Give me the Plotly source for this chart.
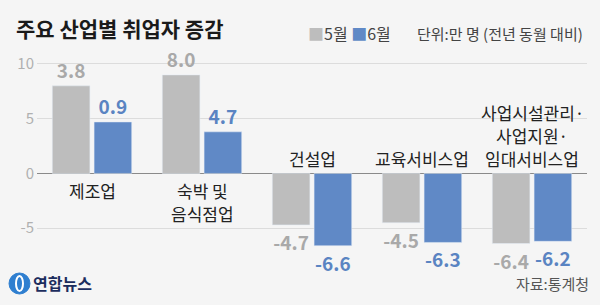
import plotly.graph_objects as go

categories = ["제조업", "숙박 및\n음식점업", "건설업", "교육서비스업", "사업시설관리·\n사업지원·\n임대서비스업"]
# bar heights as drawn in the picture (read against the axis)
may_values = [8.0, 9.0, -4.7, -4.5, -6.4]
jun_values = [4.7, 3.8, -6.6, -6.3, -6.2]
# value labels as printed on the picture
may_labels = ["3.8", "8.0", "-4.7", "-4.5", "-6.4"]
jun_labels = ["0.9", "4.7", "-6.6", "-6.3", "-6.2"]
y_ticks = [10, 5, 0, -5]

GRAY = "#bdbdbd"
GRAY_TXT = "#a9a9a9"
BLUE = "#6089c6"
BLUE_TXT = "#5a84c2"
FONT = "Noto Sans CJK KR"

W, H = 600, 305
L, R, T, B = 37, 13, 53, 33
PW, PH = W - L - R, H - T - B


def px(xp):
    return (xp - L) / PW


def py(yp):
    return (H - B - yp) / PH


x = list(range(len(categories)))
fig = go.Figure()
fig.add_bar(x=x, y=may_values, name="5월", marker_color=GRAY, text=may_labels,
            textposition="outside", cliponaxis=False,
            textfont=dict(family=FONT, size=19, color=GRAY_TXT, weight="bold"))
fig.add_bar(x=x, y=jun_values, name="6월", marker_color=BLUE, text=jun_labels,
            textposition="outside", cliponaxis=False,
            textfont=dict(family=FONT, size=19, color=BLUE_TXT, weight="bold"))

# category names: one annotation per line; lines stack with 23 px spacing
LINE = 23
for i, c in enumerate(categories):
    lines = c.split("\n")
    below = may_values[i] > 0
    for k, ln in enumerate(lines):
        if below:
            off = 17 + k * LINE           # pixels below zero line
        else:
            off = -(15 + (len(lines) - 1 - k) * LINE)  # pixels above zero line
        fig.add_annotation(x=i, y=0, xref="x", yref="y", text=ln, showarrow=False,
                           yanchor="middle", yshift=-off,
                           font=dict(family=FONT, size=17, color="#222"))


def txt(text, xp, yp, size, color, xanchor="left", bold=False):
    fig.add_annotation(x=px(xp), y=py(yp), xref="paper", yref="paper", text=text,
                       showarrow=False, xanchor=xanchor, yanchor="middle",
                       font=dict(family=FONT, size=size, color=color,
                                 weight="bold" if bold else "normal"))


txt("주요 산업별 취업자 증감", 14, 28, 21, "#1a1a1a", bold=True)
txt(f'<span style="color:{GRAY}">■</span>5월 <span style="color:{BLUE}">■</span>6월',
    306, 33, 16, "#444")
txt("단위:만 명 (전년 동월 대비)", 415, 33, 15, "#444")
txt("자료:통계청", 591, 283, 15, "#555", xanchor="right")
txt("연합뉴스", 31, 283, 16, "#1c2d5e", bold=True)

# logo circle
fig.add_shape(type="circle", xref="paper", yref="paper",
              x0=px(9), x1=px(30), y0=py(294), y1=py(273),
              fillcolor="#2f7fd0", line=dict(color="#2f7fd0", width=1))
fig.add_shape(type="circle", xref="paper", yref="paper",
              x0=px(16), x1=px(23), y0=py(291), y1=py(276),
              fillcolor="rgba(0,0,0,0)", line=dict(color="white", width=2))

fig.update_layout(
    width=W, height=H,
    margin=dict(l=L, r=R, t=T, b=B),
    paper_bgcolor="#f5f5f5", plot_bgcolor="#f5f5f5",
    barmode="group", bargap=0.24, bargroupgap=0.1,
    showlegend=False,
    xaxis=dict(range=[-0.5, 4.5], showticklabels=False, showgrid=False, zeroline=False,
               fixedrange=True),
    yaxis=dict(range=[-9, 11], tickvals=y_ticks, ticktext=[str(v) for v in y_ticks],
               showgrid=True, gridcolor="#dcdcdc", gridwidth=1,
               zeroline=True, zerolinecolor="#8a8a8a", zerolinewidth=1,
               tickfont=dict(family=FONT, size=15, color="#b0b0b0"),
               ticks="", ticklabelstandoff=2, fixedrange=True),
    font=dict(family=FONT),
)

fig.write_html("out.html")
